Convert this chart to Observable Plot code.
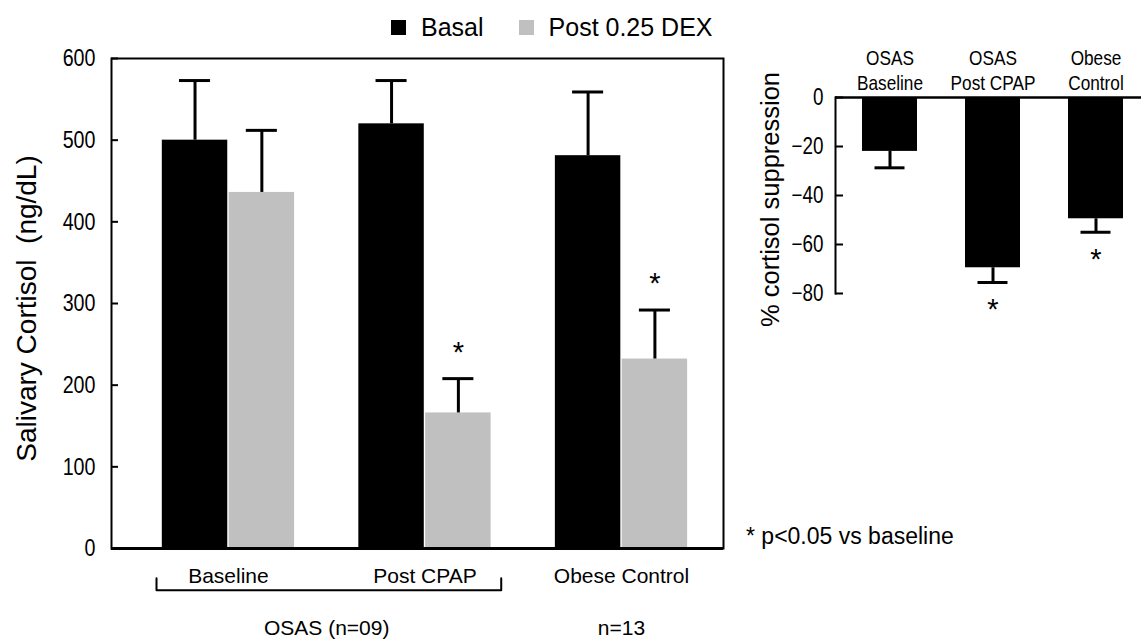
<!DOCTYPE html>
<html><head><meta charset="utf-8">
<script src="https://cdn.jsdelivr.net/npm/d3@7"></script>
<script src="https://cdn.jsdelivr.net/npm/@observablehq/plot@0.6"></script>
<style>
body{margin:0;background:#fff;}
#wrap{position:relative;width:1141px;height:641px;overflow:hidden;background:#fff;font-family:"Liberation Sans",Arial,sans-serif;color:#000;}
#wrap > *{position:absolute;margin:0;}
.lg-swatch{margin-right:35px !important;}
.lg-swatch > svg{margin-right:15px !important;}
</style></head><body><div id="wrap"></div>
<script>
// ---- data ----
const groups = ["Baseline", "Post CPAP", "Obese Control"];
const series = ["Basal", "Post 0.25 DEX"];
const seriesColors = ["#000000", "#c0c0c0"];
const basal = [500, 520, 481];
const basalSE = [73, 53, 78];
const dex = [436, 166, 232];
const dexSE = [76, 42, 60];
const dexSig = [false, true, true];
const leftTicks = [0, 100, 200, 300, 400, 500, 600];
const leftYLabel = "Salivary Cortisol  (ng/dL)";
const cohorts = [
  {text: "OSAS (n=09)", from: 0, to: 1, bracket: true},
  {text: "n=13", from: 2, to: 2, bracket: false}
];

const supCats = ["OSAS\nBaseline", "OSAS\nPost CPAP", "Obese\nControl"];
const suppression = [-22, -69.5, -49.5];
const suppressionSE = [6.7, 6, 5.5];
const supSig = [false, true, true];
const rightTicks = [0, -20, -40, -60, -80];
const rightYLabel = "% cortisol suppression";
const footnote = "* p<0.05 vs baseline";

// ---- fonts ----
const sans = "'Liberation Sans', Arial, Helvetica, sans-serif";
const NARROW = 0.82; // horizontal squeeze giving an Arial-Narrow look

function squeeze(svg, selector, filter = () => true) {
  d3.select(svg).selectAll(selector).filter(filter).each(function() {
    const t = this.getAttribute("transform") || "";
    this.setAttribute("transform", t + ` scale(${NARROW},1)`);
  });
}

const wrap = document.getElementById("wrap");

// ---- left chart ----
const half = 0.3365, gap = 0.0035, capHalf = 0.079;
const rows = [];
groups.forEach((g, i) => {
  rows.push({group: g, gi: i, series: series[0], x1: i - half, x2: i - gap, value: basal[i], se: basalSE[i], sig: false});
  rows.push({group: g, gi: i, series: series[1], x1: i + gap, x2: i + half, value: dex[i], se: dexSE[i], sig: dexSig[i]});
});
rows.forEach(d => { d.cx = (d.x1 + d.x2) / 2; d.top = d.value + d.se; });

const brackets = [];
cohorts.filter(c => c.bracket).forEach(c => {
  const a = c.from - 0.366, b = c.to + 0.388;
  brackets.push({x: a, y: -36.5}, {x: a, y: -51}, {x: b, y: -51}, {x: b, y: -36.5});
});

const left = Plot.plot({
  width: 740, height: 641,
  marginLeft: 111, marginRight: 17, marginTop: 58, marginBottom: 93,
  x: {domain: [-0.595, 2.519], axis: null},
  y: {domain: [0, 600], axis: null},
  color: {domain: series, range: seriesColors},
  style: {fontFamily: sans, color: "black", background: "transparent", overflow: "visible"},
  marks: [
    Plot.rectY(rows, {x1: "x1", x2: "x2", y1: 0, y2: "value", fill: "series"}),
    Plot.ruleX(rows, {x: "cx", y1: "value", y2: "top", strokeWidth: 3}),
    Plot.ruleY(rows, {y: "top", x1: d => d.cx - capHalf, x2: d => d.cx + capHalf, strokeWidth: 3}),
    Plot.text(rows.filter(d => d.sig), {x: "cx", y: "top", text: () => "*", dy: -26, fontSize: 29}),
    Plot.frame({stroke: "black", strokeWidth: 2}),
    Plot.ruleY([0], {strokeWidth: 3}),
    Plot.axisY({ticks: leftTicks, tickSize: -7, tickPadding: 23, fontSize: 24, label: null, strokeWidth: 2}),
    Plot.text([leftYLabel], {frameAnchor: "left", text: d => d, rotate: -90, textAnchor: "middle", dx: -84, dy: 5, fontSize: 28}),
    Plot.text(groups, {x: (d, i) => i, text: d => d, frameAnchor: "bottom", dy: 34, fontSize: 21}),
    Plot.text(cohorts, {x: d => (d.from + d.to) / 2, text: "text", frameAnchor: "bottom", dy: 86, fontSize: 21}),
    Plot.line(brackets, {x: "x", y: "y", strokeWidth: 2})
  ]
});
squeeze(left, 'g[aria-label="y-axis tick label"] text');
left.style.left = "0px"; left.style.top = "0px";
wrap.appendChild(left);

// ---- legend ----
const legend = Plot.legend({
  color: {type: "ordinal", domain: series, range: seriesColors},
  legend: "swatches", swatchSize: 15, className: "lg",
  style: {fontSize: "25px", fontFamily: sans, color: "black"}
});
legend.style.left = "391px"; legend.style.top = "11px";
wrap.appendChild(legend);

// ---- right chart ----
const srows = supCats.map((c, i) => ({cat: c, value: suppression[i], se: suppressionSE[i], end: suppression[i] - suppressionSE[i], sig: supSig[i]}));
const right = Plot.plot({
  width: 401, height: 340,
  marginLeft: 95, marginRight: 0, marginTop: 97, marginBottom: 47,
  x: {domain: supCats, range: [95, 410], paddingInner: 0.467, paddingOuter: 0.254, axis: null},
  y: {domain: [-80, 0], axis: null},
  style: {fontFamily: sans, color: "black", background: "transparent", overflow: "visible"},
  marks: [
    Plot.barY(srows, {x: "cat", y: "value", fill: "black"}),
    Plot.ruleX(srows, {x: "cat", y1: "value", y2: "end", strokeWidth: 3}),
    Plot.tickY(srows, {x: "cat", y: "end", strokeWidth: 3, inset: 12.5}),
    Plot.text(srows.filter(d => d.sig), {x: "cat", y: "end", text: () => "*", dy: 27, fontSize: 29}),
    Plot.ruleY([0], {strokeWidth: 2.5}),
    Plot.frame({anchor: "left", strokeWidth: 2}),
    Plot.axisY({ticks: rightTicks, tickSize: -8, tickPadding: 20, fontSize: 23, label: null, strokeWidth: 2}),
    Plot.text(supCats, {x: d => d, text: d => d, frameAnchor: "top", lineAnchor: "bottom", dy: -8, fontSize: 21, lineHeight: 1.19}),
    Plot.text([rightYLabel], {frameAnchor: "left", text: d => d, rotate: -90, textAnchor: "middle", dx: -65, dy: 4, fontSize: 25.5})
  ]
});
squeeze(right, 'g[aria-label="y-axis tick label"] text');
squeeze(right, 'g[aria-label="text"] text', function() { return this.querySelector("tspan") !== null; });
right.style.left = "740px"; right.style.top = "0px";
wrap.appendChild(right);

// ---- footnote ----
const fn = document.createElement("div");
fn.textContent = footnote;
fn.style.cssText = "left:746px;top:525px;font-size:23px;line-height:23px;white-space:nowrap;";
wrap.appendChild(fn);
</script></body></html>
